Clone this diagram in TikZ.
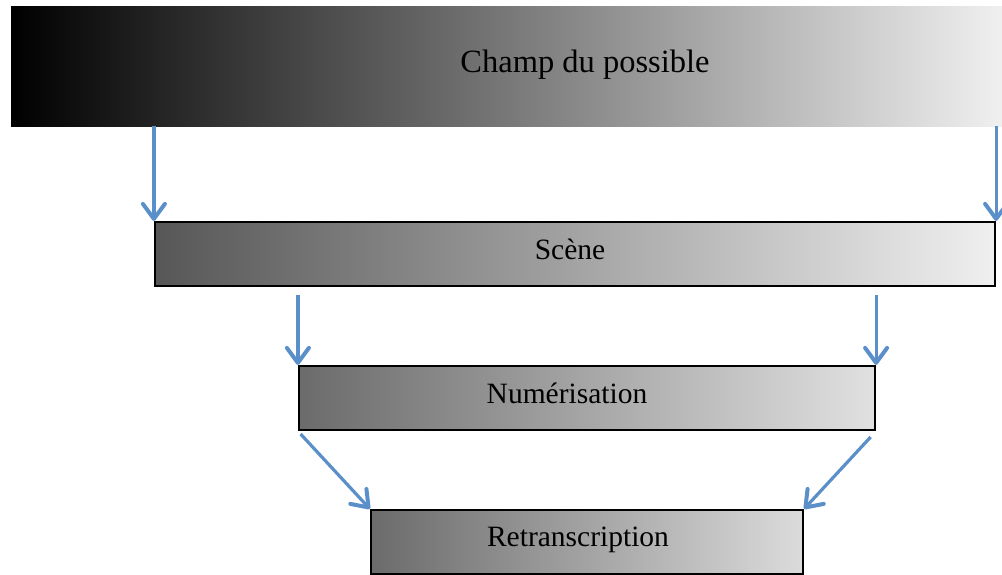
\documentclass[tikz,border=0pt]{standalone}
\usepackage{fontspec}
\setmainfont{Liberation Serif}
\usetikzlibrary{arrows.meta, calc}

\tikzset{
    stage/.style={rectangle, draw=black, line width=2.2pt, inner sep=0pt,
        minimum height=64pt, label distance=0pt},
    stagetext/.style={font=\fontsize{29.5}{34}\selectfont},
    flow/.style={draw={rgb,255:red,91;green,143;blue,201}, line width=3.2pt,
        -{Straight Barb[length=15pt, width=22pt, line width=4pt, round]}}
}

\begin{document}
\begin{tikzpicture}[x=1pt, y=-1pt]
        \useasboundingbox (0, 0) rectangle (1002, 574);
        \clip (0, 0) rectangle (1002, 574);

        \node[rectangle, inner sep=0pt, minimum width=991pt, minimum height=120pt,
            left color=black, right color=black!6] (possible) at (506.5, 66) {};
        \node[font=\fontsize{32.5}{38}\selectfont] (possibletext) at (585, 65) {Champ du possible};

        \node[stage, minimum width=840pt, left color=black!66, right color=black!6,
            label={[stagetext, xshift=-5pt, yshift=5pt]center:Scène}] (scene) at (575, 254) {};
        \node[stage, minimum width=576pt, left color=black!58, right color=black!12,
            label={[stagetext, xshift=-20pt, yshift=5pt]center:Numérisation}] (num) at (587, 398) {};
        \node[stage, minimum width=432pt, left color=black!58, right color=black!14,
            label={[stagetext, xshift=-9pt, yshift=2pt]center:Retranscription}] (retr) at (587, 542) {};

        \draw[flow] (scene.north west |- possible.south) -- (scene.north west);
        \draw[flow] (scene.north east |- possible.south) -- (scene.north east);
        \draw[flow, shorten <=8pt] (num.north west |- scene.south) -- (num.north west);
        \draw[flow, shorten <=8pt] (num.north east |- scene.south) -- (num.north east);
        \draw[flow, shorten <=4pt] (num.south west) -- (retr.north west);
        \draw[flow, shorten <=8pt] (num.south east) -- (retr.north east);
    \end{tikzpicture}
\end{document}
